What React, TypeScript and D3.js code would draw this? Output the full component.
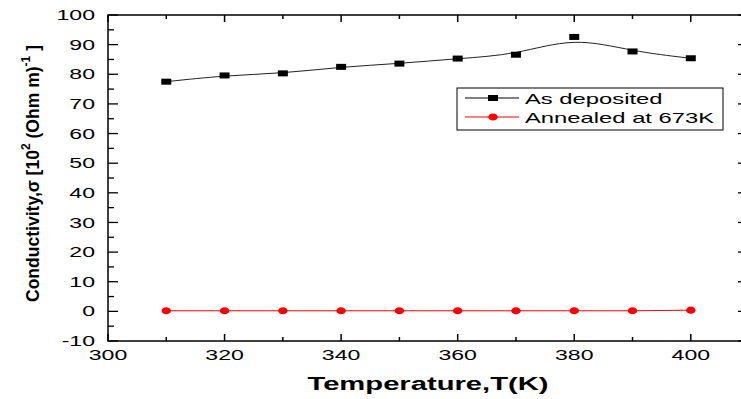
import React from "react";
import * as d3 from "d3";

const temperatures = [310, 320, 330, 340, 350, 360, 370, 380, 390, 400];
const asDeposited = [77.5, 79.6, 80.3, 82.5, 83.6, 85.3, 86.6, 92.6, 87.7, 85.4];
const annealed = [0.2, 0.2, 0.2, 0.2, 0.2, 0.2, 0.2, 0.2, 0.2, 0.4];
const xTickLabels = [300, 320, 340, 360, 380, 400];
const yTickLabels = [-10, 0, 10, 20, 30, 40, 50, 60, 70, 80, 90, 100];
const seriesNames = ["As deposited", "Annealed at 673K"];

const W = 741;
const H = 399;
const L = 108;
const R = 745;
const T = 15;
const B = 341;
const SX = 1.65;
const FONT = "'Liberation Sans', Arial, sans-serif";

function HText(props: any) {
  const { x, y, children, anchor = "start", size = 14, weight = "normal", sx = SX, dy } = props;
  return (
    <text
      transform={`translate(${x},${y}) scale(${sx},1)`}
      textAnchor={anchor}
      fontSize={size}
      fontWeight={weight}
      fontFamily={FONT}
      dy={dy}
      fill="#000"
    >
      {children}
    </text>
  );
}

export default function App() {
  const x = d3.scaleLinear().domain([300, 409.3]).range([L, R]);
  const y = d3.scaleLinear().domain([-10, 100]).range([B, T]);

  const lineBasis = d3
    .line<number>()
    .x((_, i) => x(temperatures[i]))
    .y((d) => y(d))
    .curve(d3.curveBasis);
  const lineLinear = d3
    .line<number>()
    .x((_, i) => x(temperatures[i]))
    .y((d) => y(d));

  const xTicksAll = d3.range(300, 410, 10);
  const yMinor = d3.range(-5, 100, 10);

  return (
    <svg
      width={W}
      height={H}
      style={{ position: "absolute", left: 0, top: 0, background: "#fff" }}
    >
      <rect x={0} y={0} width={W} height={H} fill="#fff" />
      {/* frame */}
      <rect x={L} y={T} width={R - L} height={B - T} fill="none" stroke="#000" strokeWidth={1.5} />

      {/* x ticks bottom and top */}
      {xTicksAll.map((t) => {
        const major = t % 20 === 0;
        const len = major ? 7 : 4;
        return (
          <g key={"xt" + t}>
            <line x1={x(t)} x2={x(t)} y1={B} y2={B - len} stroke="#000" strokeWidth={1.5} />
            <line x1={x(t)} x2={x(t)} y1={T} y2={T + len} stroke="#000" strokeWidth={1.5} />
          </g>
        );
      })}
      {/* y ticks left and right */}
      {yTickLabels.map((t) => (
        <g key={"yt" + t}>
          <line x1={L} x2={L + 10} y1={y(t)} y2={y(t)} stroke="#000" strokeWidth={1.3} />
          <line x1={R} x2={R - 7} y1={y(t)} y2={y(t)} stroke="#000" strokeWidth={1.3} />
        </g>
      ))}
      {yMinor.map((t) => (
        <g key={"ym" + t}>
          <line x1={L} x2={L + 6} y1={y(t)} y2={y(t)} stroke="#000" strokeWidth={1.3} />
          <line x1={R} x2={R - 4} y1={y(t)} y2={y(t)} stroke="#000" strokeWidth={1.3} />
        </g>
      ))}

      {/* tick labels */}
      {xTickLabels.map((t) => (
        <HText key={"xl" + t} x={x(t)} y={360} anchor="middle">
          {t}
        </HText>
      ))}
      {yTickLabels.map((t) => (
        <HText key={"yl" + t} x={95} y={y(t)} anchor="end" dy="0.36em">
          {t}
        </HText>
      ))}

      {/* axis titles */}
      <HText x={428} y={390} anchor="middle" size={17.7} weight="bold">
        Temperature,T(K)
      </HText>
      <text
        transform={`translate(39,${(45 + 302) / 2}) rotate(-90)`}
        textAnchor="middle"
        fontFamily={FONT}
        fontWeight="bold"
        fontSize={19}
        textLength={257}
        lengthAdjust="spacingAndGlyphs"
        fill="#000"
      >
        <tspan>Conductivity,σ [10</tspan>
        <tspan dy={-9} fontSize={13}>2</tspan>
        <tspan dy={9}> (Ohm m)</tspan>
        <tspan dy={-9} fontSize={13}>-1</tspan>
        <tspan dy={9}> ]</tspan>
      </text>

      {/* series */}
      <path d={lineBasis(asDeposited) || ""} fill="none" stroke="#222" strokeWidth={1} />
      {asDeposited.map((v, i) => (
        <rect
          key={"sq" + i}
          x={x(temperatures[i]) - 5}
          y={y(v) - 3}
          width={10}
          height={6}
          fill="#000"
        />
      ))}
      <path d={lineLinear(annealed) || ""} fill="none" stroke="#ff0000" strokeWidth={1} />
      {annealed.map((v, i) => (
        <ellipse
          key={"ci" + i}
          cx={x(temperatures[i])}
          cy={y(v)}
          rx={4.7}
          ry={3.6}
          fill="#ff0000"
        />
      ))}

      {/* legend */}
      <rect x={457} y={88} width={266} height={42} fill="#fff" stroke="#000" strokeWidth={1} />
      <line x1={465} x2={519} y1={98} y2={98} stroke="#000" strokeWidth={1} />
      <rect x={488} y={95} width={10} height={6} fill="#000" />
      <HText x={525} y={103.5} sx={1.7}>
        {seriesNames[0]}
      </HText>
      <line x1={465} x2={519} y1={117} y2={117} stroke="#ff0000" strokeWidth={1} />
      <ellipse cx={493} cy={117} rx={4.7} ry={3.6} fill="#ff0000" />
      <HText x={525} y={122.5} sx={1.7}>
        {seriesNames[1]}
      </HText>
    </svg>
  );
}
